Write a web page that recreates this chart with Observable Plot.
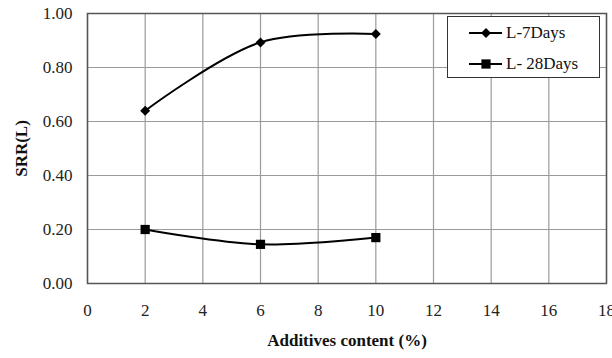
<!DOCTYPE html>
<html>
<head>
<meta charset="utf-8">
<script src="https://cdn.jsdelivr.net/npm/d3@7"></script>
<script src="https://cdn.jsdelivr.net/npm/@observablehq/plot@0.6"></script>
<style>
  html, body { margin: 0; padding: 0; background: #fff; }
  #wrap { position: relative; width: 612px; height: 358px; font-family: "Liberation Serif", "DejaVu Serif", serif; }
  #legend { position: absolute; left: 447px; top: 16px; width: 153px; height: 62px; border: 1px solid #333; background: #fff; box-sizing: border-box; }
  .item { position: absolute; left: 21px; height: 20px; display: flex; align-items: center; font-size: 17px; color: #111; }
  .item svg { margin-right: 3px; }
</style>
</head>
<body>
<div id="wrap"></div>
<script>
// Data
const additives = [2, 6, 10];
const srr7Days = [0.64, 0.893, 0.924];
const srr28Days = [0.20, 0.145, 0.17];
const seriesNames = ["L-7Days", "L- 28Days"];
const seriesSymbols = ["diamond2", "square"];
const xTicks = [0, 2, 4, 6, 8, 10, 12, 14, 16, 18];
const yTicks = [0, 0.2, 0.4, 0.6, 0.8, 1.0];

const rows = [];
additives.forEach((a, i) => rows.push({x: a, y: srr7Days[i], s: seriesNames[0]}));
additives.forEach((a, i) => rows.push({x: a, y: srr28Days[i], s: seriesNames[1]}));

const font = "Liberation Serif, DejaVu Serif, serif";

const chart = Plot.plot({
  width: 612,
  height: 358,
  marginLeft: 87,
  marginRight: 6,
  marginTop: 13,
  marginBottom: 75,
  style: {fontFamily: font, fontSize: "17px", color: "#222", background: "#fff"},
  x: {domain: [0, 18], ticks: xTicks},
  y: {domain: [0, 1], ticks: yTicks},
  symbol: {domain: seriesNames, range: seriesSymbols},
  marks: [
    Plot.gridX(xTicks, {stroke: "#9a9a9a", strokeOpacity: 1, strokeWidth: 1.2}),
    Plot.gridY(yTicks, {stroke: "#9a9a9a", strokeOpacity: 1, strokeWidth: 1.2}),
    Plot.frame({stroke: "#555", strokeWidth: 1.5}),
    Plot.axisX(xTicks, {tickSize: 0, tickPadding: 20, label: null, fontSize: 17, fontFamily: font}),
    Plot.axisY(yTicks, {tickSize: 0, tickPadding: 15, label: null, tickFormat: d3.format(".2f"), fontSize: 17, fontFamily: font}),
    Plot.line(rows, {x: "x", y: "y", z: "s", stroke: "#000", strokeWidth: 2, curve: "catmull-rom"}),
    Plot.dot(rows.filter(d => d.s === seriesNames[0]), {x: "x", y: "y", symbol: "s", fill: "#000", r: 4.5}),
    Plot.dot(rows.filter(d => d.s === seriesNames[1]), {x: "x", y: "y", symbol: "s", fill: "#000", r: 5.2}),
    Plot.text(["SRR(L)"], {frameAnchor: "left", textAnchor: "middle", dx: -66, rotate: -90, fontWeight: "bold", fontSize: 17, fontFamily: font, fill: "#111"}),
    Plot.text(["Additives content (%)"], {frameAnchor: "bottom", textAnchor: "middle", dy: 62, fontWeight: "bold", fontSize: 17, fontFamily: font, fill: "#111"})
  ]
});

const wrap = document.getElementById("wrap");
wrap.appendChild(chart);

// Legend
const legend = document.createElement("div");
legend.id = "legend";
const sym = {
  "diamond2": d3.symbol(d3.symbolDiamond2, 64)(),
  "square": d3.symbol(d3.symbolSquare, 85)()
};
seriesNames.forEach((name, i) => {
  const item = document.createElement("div");
  item.className = "item";
  item.style.top = (6 + i * 31) + "px";
  item.innerHTML = `<svg width="34" height="14" viewBox="-17 -7 34 14"><line x1="-17" x2="16" y1="0" y2="0" stroke="#000" stroke-width="2"/><path d="${sym[seriesSymbols[i]]}" fill="#000"/></svg><span>${name}</span>`;
  legend.appendChild(item);
});
wrap.appendChild(legend);
</script>
</body>
</html>
